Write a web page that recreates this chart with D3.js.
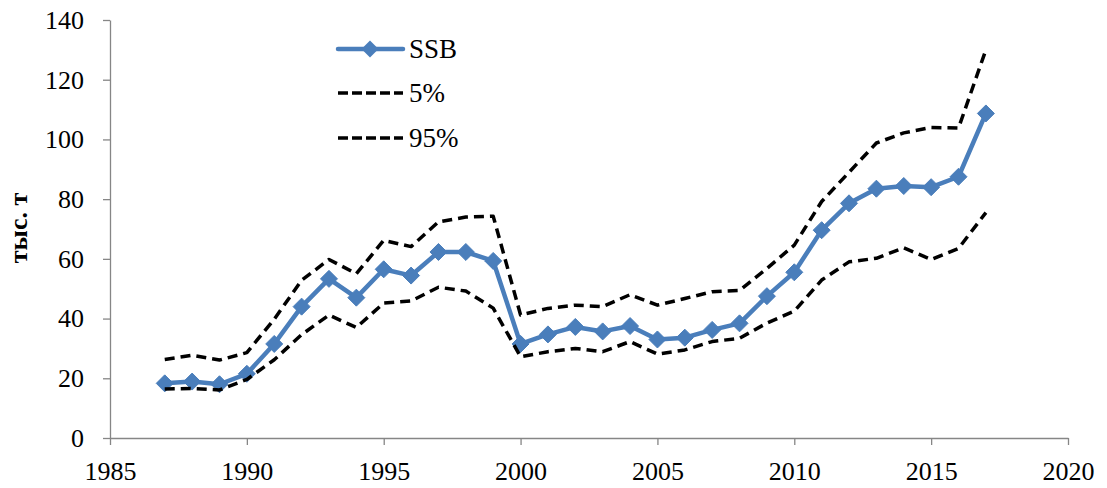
<!DOCTYPE html>
<html>
<head>
<meta charset="utf-8">
<script src="https://cdn.jsdelivr.net/npm/d3@7"></script>
<style>
  html, body { margin: 0; padding: 0; background: #fff; }
  svg { display: block; font-family: "Liberation Serif", "Times New Roman", serif; }
</style>
</head>
<body>
<svg id="chart" width="1107" height="488"></svg>
<script>
const years = [1987,1988,1989,1990,1991,1992,1993,1994,1995,1996,1997,1998,1999,2000,2001,2002,2003,2004,2005,2006,2007,2008,2009,2010,2011,2012,2013,2014,2015,2016,2017];
const ssb = [18.3,18.9,18.0,21.5,31.5,44.0,53.3,47.0,56.5,54.4,62.3,62.3,59.3,31.5,34.7,37.2,35.7,37.5,33.0,33.6,36.2,38.4,47.5,55.5,69.6,78.6,83.5,84.4,84.0,87.5,108.7];
const p5 = [16.4,16.6,16.1,19.6,26.2,34.6,41.2,37.0,45.2,45.9,50.5,49.2,43.5,27.2,28.9,30.0,28.9,32.3,28.1,29.5,32.3,33.4,38.5,42.5,52.9,59.0,60.2,63.7,59.8,63.5,75.5];
const p95 = [26.3,27.7,26.1,28.6,39.8,52.8,59.8,55.0,66.2,64.1,72.4,74.0,74.3,41.2,43.4,44.5,44.0,48.0,44.5,46.7,49.0,49.4,56.8,64.6,79.2,89.0,98.8,102.2,104.0,103.8,130.0];
const xTicks = [1985,1990,1995,2000,2005,2010,2015,2020];
const yTicks = [0,20,40,60,80,100,120,140];
const seriesNames = ["SSB","5%","95%"];
const yTitle = "тыс. т";

const svg = d3.select("#chart");
const x = d3.scaleLinear().domain([1985, 2020]).range([110, 1068]);
const y = d3.scaleLinear().domain([0, 140]).range([438, 20]);
const axisColor = "#868686";
const blue = "#4a7ebb";
const fontSize = 26;

// Axes
const xAxis = svg.append("g").attr("transform", `translate(0,${y(0)})`)
  .call(d3.axisBottom(x).tickValues(xTicks).tickFormat(d3.format("d")).tickSize(7).tickPadding(17).tickSizeOuter(0));
const yAxis = svg.append("g").attr("transform", `translate(${x(1985)},0)`)
  .call(d3.axisLeft(y).tickValues(yTicks).tickSize(7).tickPadding(19).tickSizeOuter(0));
[xAxis, yAxis].forEach(g => {
  g.selectAll("path.domain").attr("stroke", axisColor).attr("stroke-width", 1.3);
  g.selectAll(".tick line").attr("stroke", axisColor).attr("stroke-width", 1.3);
  g.selectAll(".tick text").attr("fill", "#000").style("font-size", fontSize + "px")
    .style("font-family", '"Liberation Serif", "Times New Roman", serif');
});

// Y title
svg.append("text")
  .attr("transform", `translate(27,228) rotate(-90)`)
  .attr("text-anchor", "middle")
  .style("font-size", "26px").style("font-weight", "bold")
  .text(yTitle);

const line = d3.line().x((d, i) => x(years[i])).y(d => y(d));

// SSB
svg.append("path").datum(ssb).attr("d", line)
  .attr("fill", "none").attr("stroke", blue).attr("stroke-width", 4.5).attr("stroke-linejoin", "round");
const diamond = (cx, cy, r) => `M${cx},${cy - r}L${cx + r},${cy}L${cx},${cy + r}L${cx - r},${cy}Z`;
svg.append("g").selectAll("path").data(ssb).join("path")
  .attr("d", (d, i) => diamond(x(years[i]), y(d), 8.5))
  .attr("fill", blue).attr("stroke", blue).attr("stroke-width", 1);

// Percentile lines
[p5, p95].forEach(s => {
  svg.append("path").datum(s).attr("d", line)
    .attr("fill", "none").attr("stroke", "#000").attr("stroke-width", 3.5)
    .attr("stroke-dasharray", "10,6").attr("stroke-linejoin", "round");
});

// Legend
const legY = [49, 93, 138];
const lg = svg.append("g");
lg.append("line").attr("x1", 338).attr("x2", 403).attr("y1", legY[0]).attr("y2", legY[0])
  .attr("stroke", blue).attr("stroke-width", 4.5).attr("stroke-linecap", "round");
lg.append("path").attr("d", diamond(370, legY[0], 8.5)).attr("fill", blue);
[1, 2].forEach(k => {
  lg.append("line").attr("x1", 338).attr("x2", 403).attr("y1", legY[k]).attr("y2", legY[k])
    .attr("stroke", "#000").attr("stroke-width", 3.5).attr("stroke-dasharray", "10,4");
});
seriesNames.forEach((n, k) => {
  lg.append("text").attr("x", 409).attr("y", legY[k]).attr("dy", "0.33em")
    .style("font-size", "27px").text(n);
});
</script>
</body>
</html>
